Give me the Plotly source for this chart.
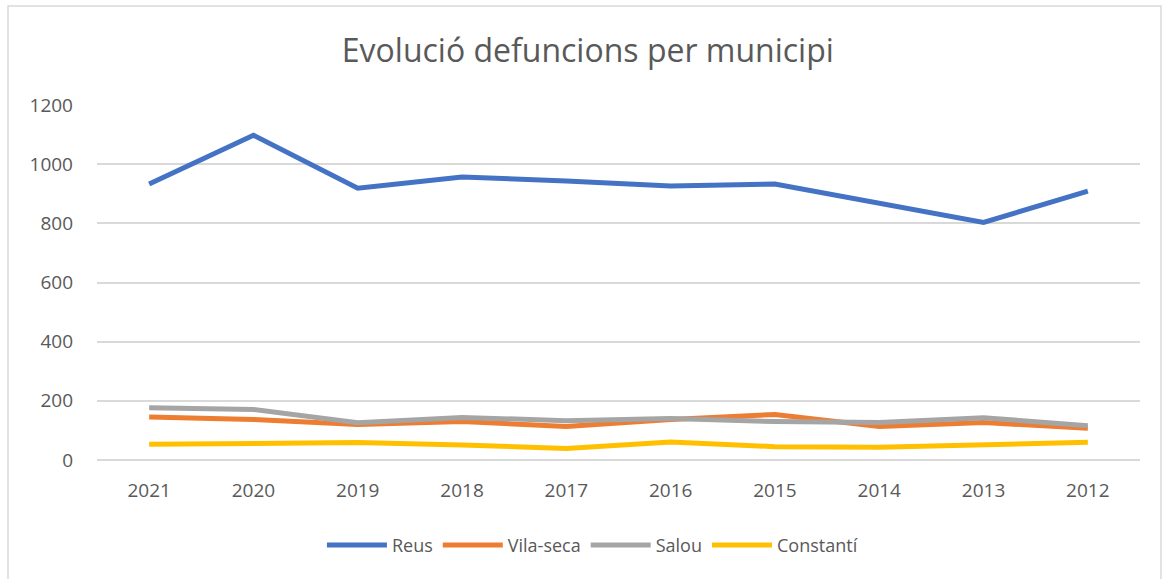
import plotly.graph_objects as go

years = ["2021", "2020", "2019", "2018", "2017", "2016", "2015", "2014", "2013", "2012"]
reus = [933, 1098, 919, 957, 943, 926, 933, 866, 803, 909]
vila_seca = [145, 137, 120, 130, 113, 137, 154, 113, 127, 107]
salou = [177, 171, 126, 144, 133, 140, 130, 127, 143, 116]
constanti = [53, 54, 59, 51, 39, 61, 45, 43, 53, 60]

series = [
    ("Reus", reus, "#4472C4"),
    ("Vila-seca", vila_seca, "#ED7D31"),
    ("Salou", salou, "#A5A5A5"),
    ("Constantí", constanti, "#FFC000"),
]

fig = go.Figure()
for name, vals, color in series:
    fig.add_trace(go.Scatter(
        x=years, y=vals, name=name, mode="lines",
        line=dict(color=color, width=5),
    ))

font_family = "Open Sans, Noto Sans, sans-serif"
fig.update_layout(
    width=1164, height=579,
    margin=dict(l=97, r=24, t=105, b=119),
    paper_bgcolor="white", plot_bgcolor="white",
    font=dict(family=font_family, color="#595959", size=17),
    title=dict(text="Evolució defuncions per municipi", x=0.505, xanchor="center",
               y=0.913, yanchor="middle", font=dict(size=32, color="#595959", family=font_family)),
    showlegend=True,
    legend=dict(orientation="h", x=0.475, xanchor="center", y=-0.24, yanchor="middle",
                font=dict(size=18, color="#595959"), itemwidth=60, tracegroupgap=0),
    xaxis=dict(type="category", range=[-0.5, 9.5], showgrid=False, showline=False, ticks="",
               tickfont=dict(size=19, color="#595959"), ticklabelstandoff=17),
    yaxis=dict(range=[0, 1200], dtick=200, showgrid=True, gridcolor="#D9D9D9", gridwidth=1.5,
               zeroline=True, zerolinecolor="#D9D9D9", zerolinewidth=1.5,
               showline=False, ticks="", tickfont=dict(size=19, color="#595959"),
               ticklabelstandoff=23),
)
fig.add_shape(type="rect", xref="paper", yref="paper",
              x0=(8 - 97) / 1043, x1=(1161 - 97) / 1043,
              y0=-0.45, y1=(460 - 6) / 355,
              line=dict(color="#D9D9D9", width=1.5), fillcolor="rgba(0,0,0,0)", layer="below")
fig.write_html("out.html", config={"displayModeBar": False},
               post_script="document.body.style.margin='0';document.body.style.overflow='hidden';")
